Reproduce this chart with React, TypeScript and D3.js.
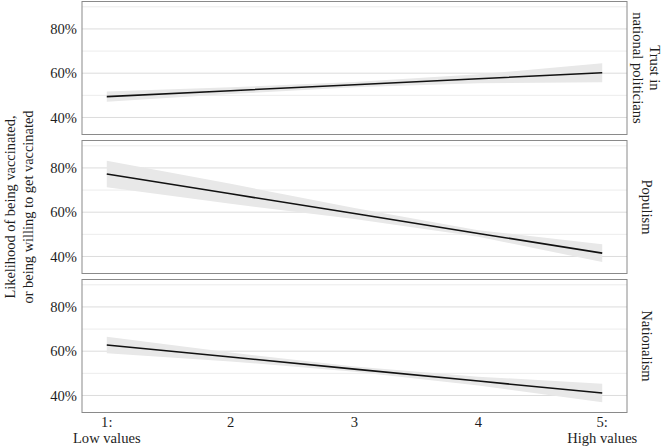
import React, { useEffect, useRef } from 'react';
import * as d3 from 'd3';

// x positions (scale 1..5)
const levels = [1, 2, 3, 4, 5];
const xTickLabels = [['1:', 'Low values'], ['2'], ['3'], ['4'], ['5:', 'High values']];

// facet labels (right strip)
const facetLabels = [['Trust in', 'national politicians'], ['Populism'], ['Nationalism']];

// predicted probabilities (%), with confidence band
const trustFit = [49.4, 52.1, 54.8, 57.5, 60.2];
const trustLow = [47.1, 50.6, 53.6, 55.5, 55.9];
const trustHigh = [51.7, 53.6, 56.0, 59.5, 64.5];

const populismFit = [77.3, 68.3, 59.4, 50.4, 41.5];
const populismLow = [71.3, 63.8, 56.9, 48.9, 37.5];
const populismHigh = [83.3, 72.8, 61.9, 51.9, 45.5];

const nationalismFit = [62.8, 57.4, 51.9, 46.5, 41.1];
const nationalismLow = [59.1, 55.4, 50.7, 44.5, 36.9];
const nationalismHigh = [66.5, 59.4, 53.1, 48.5, 45.3];

const yTicks = [40, 60, 80];
const yMinor = [50, 70, 90];

const App = () => {
  const svgRef = useRef<SVGSVGElement>(null);

  useEffect(() => {
    const width = 664;
    const height = 447;
    const left = 82;
    const right = 627;
    const panelTops = [1.5, 140.5, 279.5];
    const panelH = 133;
    const font = '"Liberation Serif", "DejaVu Serif", serif';
    const fs = '14.6px';

    const series = [
      { fit: trustFit, lo: trustLow, hi: trustHigh },
      { fit: populismFit, lo: populismLow, hi: populismHigh },
      { fit: nationalismFit, lo: nationalismLow, hi: nationalismHigh },
    ];

    const svg = d3.select(svgRef.current);
    svg.selectAll('*').remove();
    svg.attr('width', width).attr('height', height);

    svg.append('rect').attr('width', width).attr('height', height).attr('fill', 'white');

    const x = d3.scaleLinear().domain([0.8, 5.2]).range([left, right]);

    series.forEach((s, i) => {
      const top = panelTops[i];
      const y = d3.scaleLinear().domain([32.3, 92.4]).range([top + panelH, top]);
      const g = svg.append('g');

      g.selectAll('line.minor')
        .data(yMinor)
        .join('line')
        .attr('x1', left)
        .attr('x2', right)
        .attr('y1', d => y(d))
        .attr('y2', d => y(d))
        .attr('stroke', '#e6e6e6')
        .attr('stroke-width', 0.8);

      g.selectAll('line.major')
        .data(yTicks)
        .join('line')
        .attr('x1', left)
        .attr('x2', right)
        .attr('y1', d => y(d))
        .attr('y2', d => y(d))
        .attr('stroke', '#dcdcdc')
        .attr('stroke-width', 1);

      const pts = levels.map((l, k) => ({ x: l, fit: s.fit[k], lo: s.lo[k], hi: s.hi[k] }));

      const area = d3
        .area<any>()
        .x(d => x(d.x))
        .y0(d => y(d.lo))
        .y1(d => y(d.hi));
      g.append('path').attr('d', area(pts)).attr('fill', '#e8e8e8');

      const line = d3
        .line<any>()
        .x(d => x(d.x))
        .y(d => y(d.fit));
      g.append('path')
        .attr('d', line(pts))
        .attr('fill', 'none')
        .attr('stroke', '#111')
        .attr('stroke-width', 1.6);

      g.append('rect')
        .attr('x', left)
        .attr('y', top)
        .attr('width', right - left)
        .attr('height', panelH)
        .attr('fill', 'none')
        .attr('stroke', '#8a8a8a')
        .attr('stroke-width', 1);

      g.selectAll('text.ytick')
        .data(yTicks)
        .join('text')
        .attr('x', 77)
        .attr('y', d => y(d))
        .attr('dy', '0.35em')
        .attr('text-anchor', 'end')
        .style('font-family', font)
        .style('font-size', fs)
        .attr('fill', '#1e1e1e')
        .text(d => `${d}%`);

      // strip label
      const labels = facetLabels[i];
      const cy = top + panelH / 2;
      const strip = g
        .append('text')
        .attr('transform', `translate(${labels.length > 1 ? 633 : 642},${cy}) rotate(90)`)
        .attr('text-anchor', 'middle')
        .style('font-family', font)
        .style('font-size', fs)
        .attr('fill', '#1e1e1e');
      labels
        .slice()
        .reverse()
        .forEach((t, k) => {
          strip
            .append('tspan')
            .attr('x', 0)
            .attr('dy', k === 0 ? 0 : -17)
            .text(t);
        });
    });

    // x axis labels
    xTickLabels.forEach((lab, k) => {
      const t = svg
        .append('text')
        .attr('text-anchor', 'middle')
        .style('font-family', font)
        .style('font-size', fs)
        .attr('fill', '#1e1e1e')
        .attr('transform', `translate(${x(levels[k])},426.5)`);
      lab.forEach((s, j) => {
        t.append('tspan').attr('x', 0).attr('dy', j === 0 ? 0 : 16.5).text(s);
      });
    });

    // y axis title
    const yt = svg
      .append('text')
      .attr('transform', `translate(0,${(panelTops[0] + panelTops[2] + panelH) / 2}) rotate(-90)`)
      .attr('text-anchor', 'middle')
      .style('font-family', font)
      .style('font-size', '14.4px')
      .attr('fill', '#1e1e1e');
    yt.append('tspan').attr('x', 0).attr('y', 15).text('Likelihood of being vaccinated,');
    yt.append('tspan').attr('x', 0).attr('y', 32.5).text('or being willing to get vaccinated');
  }, []);

  return (
    <svg
      ref={svgRef}
      style={{ position: 'absolute', left: 0, top: 0, display: 'block' }}
    ></svg>
  );
};

export default App;
